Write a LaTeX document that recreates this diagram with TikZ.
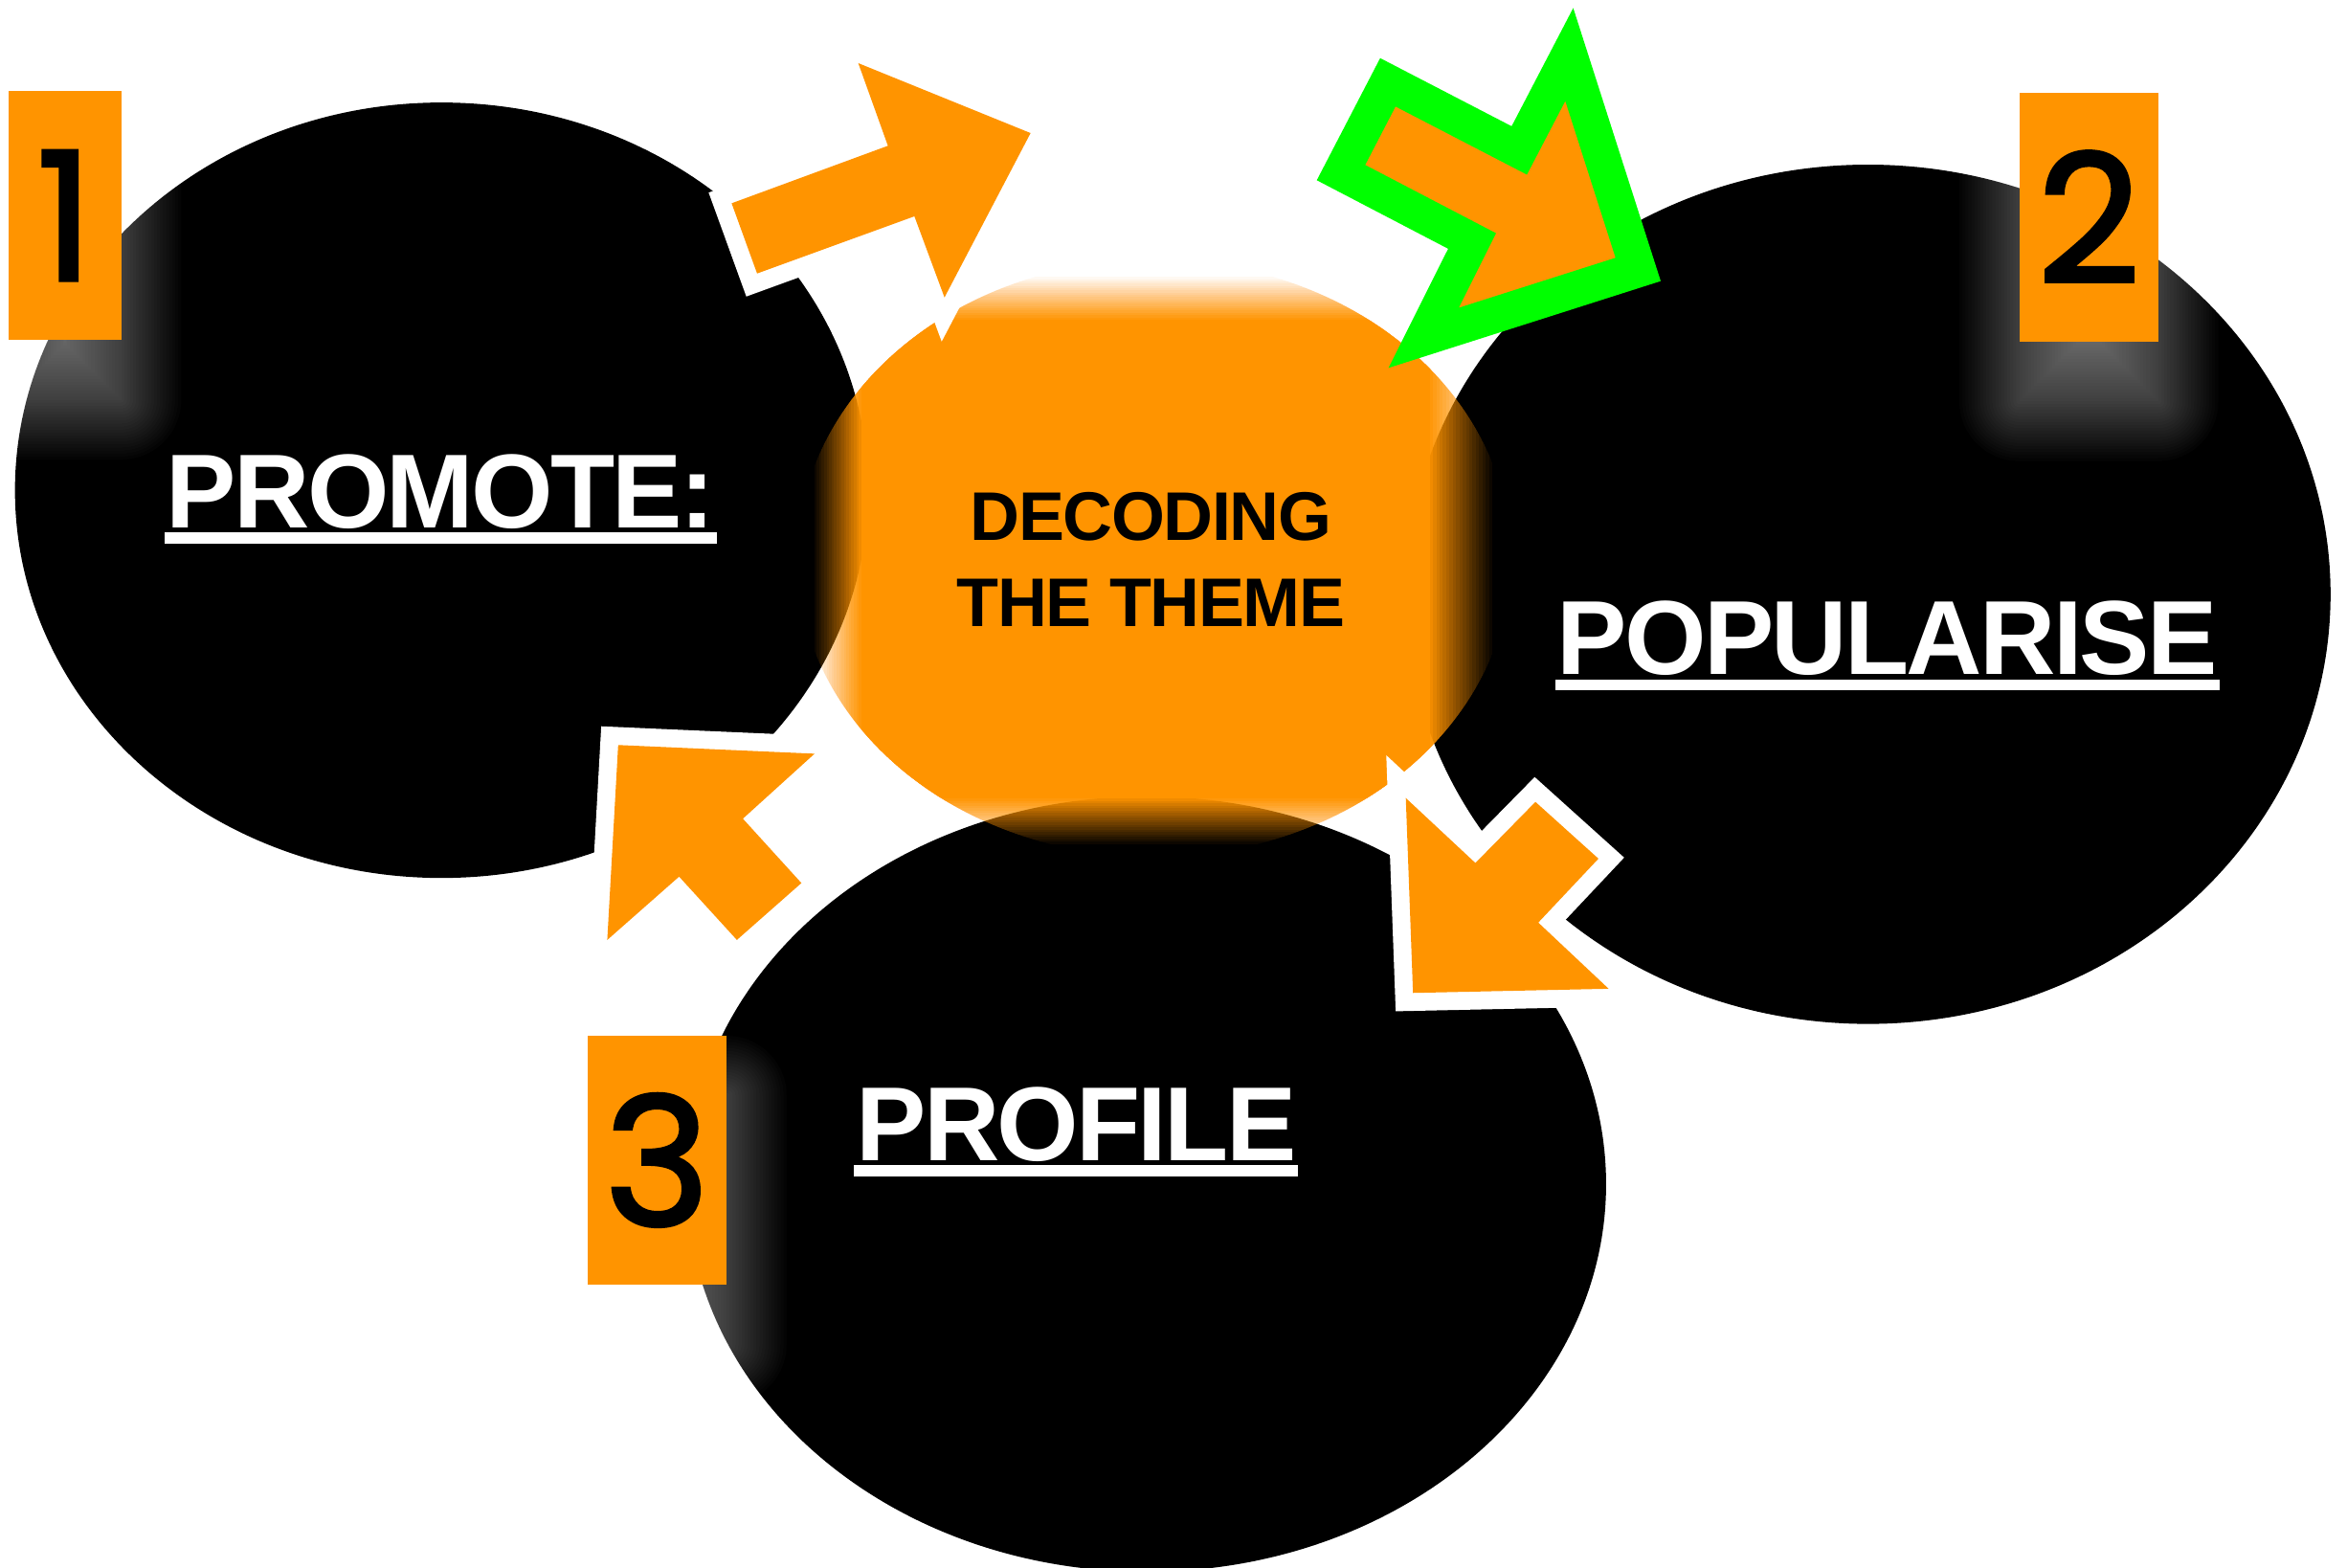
\documentclass[tikz,border=0pt]{standalone}
\usepackage{fontspec}
\setmainfont{Liberation Sans}
\newfontfamily\wordfont{Liberation Sans}[LetterSpace=-2.5]
\newfontfamily\themefont{Liberation Sans}[LetterSpace=-2]
\newfontfamily\digitfont{Poppins}[FakeBold=2]
\usepackage{tikz}
\usetikzlibrary{calc}
\definecolor{themeorange}{RGB}{255,148,0}
\definecolor{arrowgreen}{RGB}{0,255,0}
% soft white halo under a number tab, given by its corners
\newcommand{\glowbox}[4]{%
  \foreach \ext in {40,38,...,-38}{%
    \pgfmathsetmacro\rc{max(\ext,0)*0.25}%
    \fill[white,fill opacity=0.017,rounded corners=\rc mm]
      ({#1-(\ext)},{#2+40-(\ext)}) rectangle ({#3+\ext},{#4+40+\ext});}}
\tikzset{
  word/.style={text=white,inner sep=0pt,font=\wordfont\bfseries\fontsize{50}{60}\selectfont},
  themeword/.style={text=black,inner sep=0pt,align=center,font=\themefont\bfseries\fontsize{32.7}{41}\selectfont},
  numbox/.style={fill=themeorange,inner sep=0pt,minimum height=41.5mm,font=\digitfont\fontsize{85}{90}\selectfont},
  blockarrow/.style={fill=themeorange,preaction={draw=white,line width=6mm,line join=miter}},
  greenarrow/.style={fill=themeorange,draw=arrowgreen,line width=6mm,line join=miter},
}
\begin{document}
\begin{tikzpicture}[x=0.25mm,y=-0.25mm]
\fill[white] (0,0) rectangle (1568,1047);
\useasboundingbox (0,0) rectangle (1568,1047);
\fill[black] (295,327.5) ellipse [x radius=285,y radius=259];
\fill[black] (1248,397) ellipse [x radius=309,y radius=287];
\fill[black] (766,791) ellipse [x radius=307,y radius=259];
\glowbox{6}{61}{81}{227}
\glowbox{1349}{62}{1442}{228}
\glowbox{392.5}{692}{485.5}{858}
% centre disc, faded towards its edges
\coordinate (theme) at (771,373);
\begin{scope}
  \clip (theme) ellipse [x radius=238.5,y radius=199.4];
  \foreach \k in {0,...,19}{
    \pgfmathsetmacro\op{1/(20-\k)}
    \fill[themeorange,fill opacity=\op]
      ({544+1.65*\k},{185+1.5*\k}) rectangle ({997-2.2*\k},{564-1.6*\k});
  }
\end{scope}
\path[blockarrow] (488.8,135.8) -- (593.2,97.4) -- (573.4,42.2) -- (688.5,88.9) -- (631,198.7) -- (610.9,144.5) -- (505.8,182.7) -- cycle;
\path[greenarrow] (927.2,55) -- (1015,100.5) -- (1048.4,36.4) -- (1094.4,180) -- (951.1,225.7) -- (983.5,161) -- (895.9,115.3) -- cycle;
\path[blockarrow] (939.2,533.1) -- (985.7,576.5) -- (1025.8,535.7) -- (1067.9,573.6) -- (1027.7,616.3) -- (1074.7,660.5) -- (944,663.3) -- cycle;
\path[blockarrow] (413,497.7) -- (544.2,503.5) -- (496.3,546.9) -- (535.4,589.9) -- (492.3,627.9) -- (453.7,585.6) -- (405.7,627.9) -- cycle;
\node[themeword] (themetext) at (769,373.8) {DECODING\\THE THEME};
\node[numbox,minimum width=18.75mm] (box1) at (43.5,144) {1};
\node[numbox,minimum width=23.25mm] (box2) at (1395.5,145) {2};
\node[numbox,minimum width=23.25mm] (box3) at (439,775) {3};
\node[word,anchor=base] (promote) at (294.5,352.5) {PROMOTE:};
\node[word,anchor=base] (popularise) at (1261,450.8) {POPULARISE};
\node[word,anchor=base] (profile) at (719,775.5) {PROFILE};
\foreach \w in {promote,popularise,profile}
  \fill[white] ($(\w.base west)+(-1,3)$) rectangle ($(\w.base east)+(1,10.5)$);
\end{tikzpicture}
\end{document}
